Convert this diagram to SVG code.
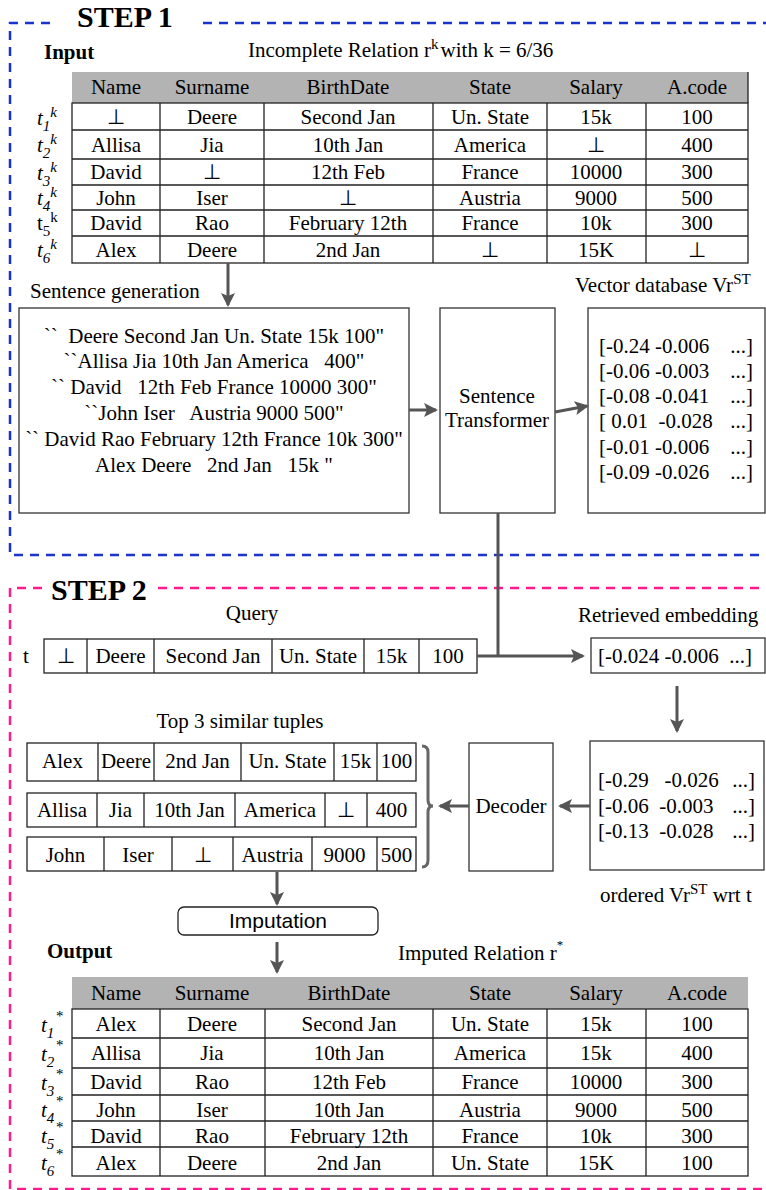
<svg xmlns="http://www.w3.org/2000/svg" width="766" height="1190" viewBox="0 0 766 1190">
<style>
.t{font-family:"Liberation Serif","Times New Roman",serif;font-size:21px;fill:#000}
.c{text-anchor:middle}
.e{text-anchor:end}
.b{font-weight:bold}
.i{font-style:italic}
.s{font-size:15px}
.pre text,text.pre{white-space:pre}
.sans{font-family:"Liberation Sans",Arial,sans-serif;font-size:21px;fill:#000}
.grid{fill:none;stroke:#222;stroke-width:1.3}
.box{fill:#fff;stroke:#333;stroke-width:1.3}
.hdr{fill:#b3b3b3}
.arr{stroke:#555;stroke-width:3;fill:none;marker-end:url(#ah)}
.ln{stroke:#555;stroke-width:3;fill:none}
.blue{stroke:#1a33cc;stroke-width:2.5;fill:none;stroke-dasharray:9 7}
.pink{stroke:#ff1a8c;stroke-width:2.5;fill:none;stroke-dasharray:9 7}
</style>
<defs>
<marker id="ah" markerUnits="userSpaceOnUse" markerWidth="16" markerHeight="16" refX="12" refY="7" orient="auto">
<path d="M0,0 L14,7 L0,14 L3,7 z" fill="#555"/>
</marker>
</defs>
<rect width="766" height="1190" fill="#fff"/>

<g id="step1-frame">
<path class="blue" d="M50,23 H10 V555 H766"/>
<path class="blue" d="M203,23 H766"/>
<text class="t b" x="77" y="27" style="font-size:30px">STEP 1</text>
</g>

<g id="step2-frame">
<path class="pink" d="M42,588 H10 V1189 H766"/>
<path class="pink" d="M158,588 H766"/>
<text class="t b" x="51" y="600" style="font-size:30px">STEP 2</text>
</g>

<g id="input-table">
<text class="t b" x="44" y="59">Input</text>
<text class="t" x="248" y="57">Incomplete Relation r<tspan class="s" dy="-8">k</tspan><tspan dy="8" dx="2">with k = 6/36</tspan></text>
<rect class="hdr" x="72" y="72" width="676" height="31"/>
<rect class="grid" x="72" y="103" width="676" height="160"/>
<path class="grid" d="M72,130H748M72,159H748M72,185H748M72,210H748M72,236H748M160,103V263M264,103V263M433,103V263M547,103V263M646,103V263M748,72V103"/>
<g class="t c">
<text x="116" y="94">Name</text><text x="212" y="94">Surname</text><text x="348" y="94">BirthDate</text><text x="490" y="94">State</text><text x="596" y="94">Salary</text><text x="697" y="94">A.code</text>
<text x="116" y="124">⊥</text><text x="212" y="124">Deere</text><text x="348" y="124">Second Jan</text><text x="490" y="124">Un. State</text><text x="596" y="124">15k</text><text x="697" y="124">100</text>
<text x="116" y="152">Allisa</text><text x="212" y="152">Jia</text><text x="348" y="152">10th Jan</text><text x="490" y="152">America</text><text x="596" y="152">⊥</text><text x="697" y="152">400</text>
<text x="116" y="179">David</text><text x="212" y="179">⊥</text><text x="348" y="179">12th Feb</text><text x="490" y="179">France</text><text x="596" y="179">10000</text><text x="697" y="179">300</text>
<text x="116" y="205">John</text><text x="212" y="205">Iser</text><text x="348" y="205">⊥</text><text x="490" y="205">Austria</text><text x="596" y="205">9000</text><text x="697" y="205">500</text>
<text x="116" y="230">David</text><text x="212" y="230">Rao</text><text x="348" y="230">February 12th</text><text x="490" y="230">France</text><text x="596" y="230">10k</text><text x="697" y="230">300</text>
<text x="116" y="257">Alex</text><text x="212" y="257">Deere</text><text x="348" y="257">2nd Jan</text><text x="490" y="257">⊥</text><text x="596" y="257">15K</text><text x="697" y="257">⊥</text>
</g>
<g class="t i">
<text x="37" y="125">t<tspan class="s" dy="6">1</tspan><tspan class="s" dy="-14">k</tspan></text>
<text x="37" y="152">t<tspan class="s" dy="6">2</tspan><tspan class="s" dy="-14">k</tspan></text>
<text x="37" y="180">t<tspan class="s" dy="6">3</tspan><tspan class="s" dy="-14">k</tspan></text>
<text x="37" y="205">t<tspan class="s" dy="6">4</tspan><tspan class="s" dy="-14">k</tspan></text>
<text x="37" y="257">t<tspan class="s" dy="6">6</tspan><tspan class="s" dy="-14">k</tspan></text>
</g>
<text class="t" x="37" y="230">t<tspan class="s" dy="6">5</tspan><tspan class="s" dy="-14">k</tspan></text>
</g>

<g id="sentence-generation">
<text class="t" x="30" y="298">Sentence generation</text>
<rect class="box" x="19" y="308" width="390" height="205"/>
<g class="t c pre">
<text x="214" y="343">``  Deere Second Jan Un. State 15k 100"</text>
<text x="214" y="368">``Allisa Jia 10th Jan America   400"</text>
<text x="214" y="394">`` David   12th Feb France 10000 300"</text>
<text x="214" y="420">``John Iser   Austria 9000 500"</text>
<text x="214" y="446">`` David Rao February 12th France 10k 300"</text>
<text x="214" y="472">Alex Deere   2nd Jan   15k "</text>
</g>
</g>

<g id="sentence-transformer">
<rect class="box" x="440" y="308" width="115" height="205"/>
<text class="t c" x="497" y="403">Sentence</text>
<text class="t c" x="497" y="427">Transformer</text>
</g>

<g id="vector-database">
<text class="t" x="575" y="292">Vector database Vr<tspan class="s" dy="-8">ST</tspan></text>
<rect class="box" x="588" y="308" width="177" height="205"/>
<g class="t pre">
<text x="599" y="353">[-0.24 -0.006</text><text x="753" y="353" class="e">...]</text>
<text x="599" y="378">[-0.06 -0.003</text><text x="753" y="378" class="e">...]</text>
<text x="599" y="403">[-0.08 -0.041</text><text x="753" y="403" class="e">...]</text>
<text x="599" y="428">[ 0.01  -0.028</text><text x="753" y="428" class="e">...]</text>
<text x="599" y="454">[-0.01 -0.006</text><text x="753" y="454" class="e">...]</text>
<text x="599" y="479">[-0.09 -0.026</text><text x="753" y="479" class="e">...]</text>
</g>
</g>

<g id="query">
<text class="t c" x="252" y="620">Query</text>
<text class="t" x="23" y="663">t</text>
<rect class="grid" x="44" y="639" width="433" height="34"/>
<path class="grid" d="M87,639V673M154,639V673M272,639V673M364,639V673M419,639V673"/>
<g class="t c">
<text x="65.5" y="663">⊥</text><text x="120.5" y="663">Deere</text><text x="213" y="663">Second Jan</text><text x="318" y="663">Un. State</text><text x="391.5" y="663">15k</text><text x="448" y="663">100</text>
</g>
</g>

<g id="retrieved-embedding">
<text class="t" x="578" y="622">Retrieved embedding</text>
<rect class="box" x="591" y="638" width="174" height="35"/>
<text class="t pre" x="598" y="663">[-0.024 -0.006  ...]</text>
</g>

<g id="ordered-vectors">
<rect class="box" x="590" y="741" width="174" height="129"/>
<g class="t pre">
<text x="598" y="787">[-0.29   -0.026</text><text x="755" y="787" class="e">...]</text>
<text x="598" y="813">[-0.06  -0.003</text><text x="755" y="813" class="e">...]</text>
<text x="598" y="838">[-0.13  -0.028</text><text x="755" y="838" class="e">...]</text>
</g>
<text class="t" x="600" y="902">ordered Vr<tspan class="s" dy="-8">ST</tspan><tspan dy="8"> wrt t</tspan></text>
</g>

<g id="decoder">
<rect class="box" x="469" y="743" width="84" height="128"/>
<text class="t c" x="511" y="813">Decoder</text>
</g>

<g id="top3-tuples">
<text class="t c" x="240" y="728">Top 3 similar tuples</text>
<rect class="grid" x="27" y="743" width="389" height="38"/>
<path class="grid" d="M98,743V781M154,743V781M241,743V781M334,743V781M377,743V781"/>
<rect class="grid" x="27" y="793" width="389" height="34"/>
<path class="grid" d="M97,793V827M144,793V827M235,793V827M325,793V827M367,793V827"/>
<rect class="grid" x="27" y="837" width="389" height="34"/>
<path class="grid" d="M104,837V871M172,837V871M233,837V871M312,837V871M377,837V871"/>
<g class="t c">
<text x="62.5" y="768">Alex</text><text x="126" y="768">Deere</text><text x="197.5" y="768">2nd Jan</text><text x="287.5" y="768">Un. State</text><text x="355.5" y="768">15k</text><text x="396.5" y="768">100</text>
<text x="62" y="817">Allisa</text><text x="120.5" y="817">Jia</text><text x="189.5" y="817">10th Jan</text><text x="280" y="817">America</text><text x="346" y="817">⊥</text><text x="391.5" y="817">400</text>
<text x="65.5" y="862">John</text><text x="138" y="862">Iser</text><text x="202.5" y="862">⊥</text><text x="272.5" y="862">Austria</text><text x="344.5" y="862">9000</text><text x="396.5" y="862">500</text>
</g>
<path d="M422,746 Q428,746 428,752 V800 Q428,806 433,806 Q428,806 428,812 V860 Q428,867 422,867" fill="none" stroke="#666" stroke-width="3"/>
</g>

<g id="imputation">
<rect x="178" y="907" width="200" height="28" rx="6" fill="#fff" stroke="#222" stroke-width="1.3"/>
<text class="sans c" x="278" y="928">Imputation</text>
</g>

<g id="output-table">
<text class="t b" x="47" y="958">Output</text>
<text class="t" x="398" y="960">Imputed Relation r<tspan style="font-size:13px" dy="-11">*</tspan></text>
<rect class="hdr" x="72" y="977" width="676" height="32"/>
<rect class="grid" x="72" y="1009" width="676" height="167"/>
<path class="grid" d="M72,1038H748M72,1068H748M72,1095H748M72,1121H748M72,1147H748M160,1009V1176M265,1009V1176M433,1009V1176M547,1009V1176M646,1009V1176"/>
<g class="t c">
<text x="116" y="1000">Name</text><text x="212" y="1000">Surname</text><text x="349" y="1000">BirthDate</text><text x="490" y="1000">State</text><text x="596" y="1000">Salary</text><text x="697" y="1000">A.code</text>
<text x="116" y="1031">Alex</text><text x="212" y="1031">Deere</text><text x="349" y="1031">Second Jan</text><text x="490" y="1031">Un. State</text><text x="596" y="1031">15k</text><text x="697" y="1031">100</text>
<text x="116" y="1060">Allisa</text><text x="212" y="1060">Jia</text><text x="349" y="1060">10th Jan</text><text x="490" y="1060">America</text><text x="596" y="1060">15k</text><text x="697" y="1060">400</text>
<text x="116" y="1089">David</text><text x="212" y="1089">Rao</text><text x="349" y="1089">12th Feb</text><text x="490" y="1089">France</text><text x="596" y="1089">10000</text><text x="697" y="1089">300</text>
<text x="116" y="1117">John</text><text x="212" y="1117">Iser</text><text x="349" y="1117">10th Jan</text><text x="490" y="1117">Austria</text><text x="596" y="1117">9000</text><text x="697" y="1117">500</text>
<text x="116" y="1143">David</text><text x="212" y="1143">Rao</text><text x="349" y="1143">February 12th</text><text x="490" y="1143">France</text><text x="596" y="1143">10k</text><text x="697" y="1143">300</text>
<text x="116" y="1170">Alex</text><text x="212" y="1170">Deere</text><text x="349" y="1170">2nd Jan</text><text x="490" y="1170">Un. State</text><text x="596" y="1170">15K</text><text x="697" y="1170">100</text>
</g>
<g class="t i">
<text x="41" y="1032">t<tspan class="s" dy="6">1</tspan><tspan class="s" dy="-17" dx="1">*</tspan></text>
<text x="41" y="1061">t<tspan class="s" dy="6">2</tspan><tspan class="s" dy="-17" dx="1">*</tspan></text>
<text x="41" y="1090">t<tspan class="s" dy="6">3</tspan><tspan class="s" dy="-17" dx="1">*</tspan></text>
<text x="41" y="1117">t<tspan class="s" dy="6">4</tspan><tspan class="s" dy="-17" dx="1">*</tspan></text>
<text x="41" y="1143">t<tspan class="s" dy="6">5</tspan><tspan class="s" dy="-17" dx="1">*</tspan></text>
<text x="41" y="1170">t<tspan class="s" dy="6">6</tspan><tspan class="s" dy="-17" dx="1">*</tspan></text>
</g>
</g>

<g id="connectors">
<path class="arr" d="M228,263 V305"/>
<path class="arr" d="M409,410 H436"/>
<path class="arr" d="M555,412 L587,406"/>
<path class="ln" d="M498,513 V656"/>
<path class="arr" d="M477,656 H583"/>
<path class="arr" d="M677,686 V731"/>
<path class="arr" d="M590,806 H560"/>
<path class="arr" d="M469,806 H440"/>
<path class="arr" d="M277,872 V904"/>
<path class="arr" d="M277,942 V972"/>
</g>
</svg>
